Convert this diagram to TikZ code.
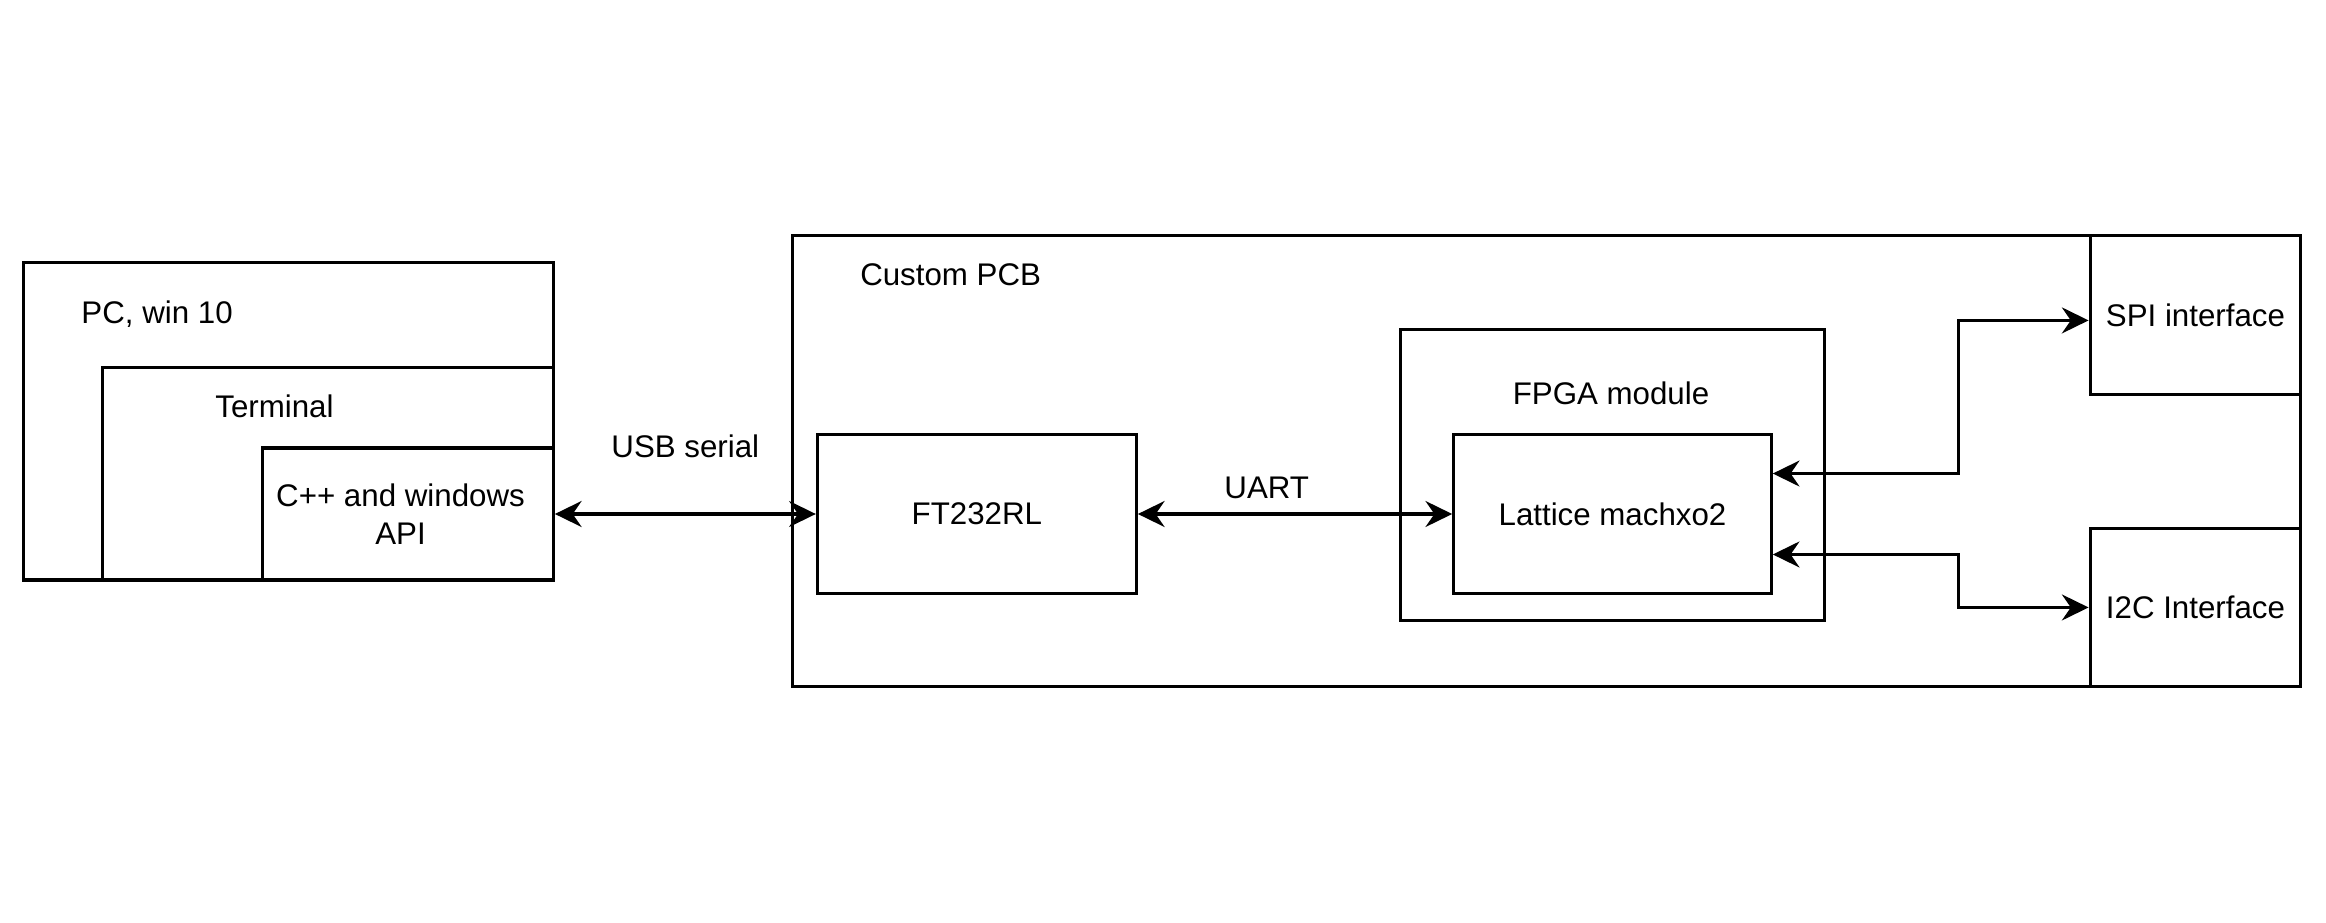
\documentclass[tikz,border=0pt]{standalone}
\usepackage{fontspec}
\setmainfont{Liberation Sans}
\usetikzlibrary{arrows.meta,calc}
\begin{document}
\begin{tikzpicture}[line width=1.2pt, font=\fontsize{12}{14.8}\selectfont,
    >={Stealth[length=3.6mm,width=3.5mm,inset=1.2mm]},
    blk/.style={draw, rectangle, inner sep=0pt, align=center}]
    \useasboundingbox (0,0) rectangle (31.36,12.44);
    % PC side
    \node[blk, minimum width=7.14cm, minimum height=4.28cm] (pc) at (3.89,6.76) {};
    \node[blk, minimum width=6.08cm, minimum height=2.86cm] (term) at (4.42,6.05) {};
    \node[blk, minimum width=3.92cm, minimum height=1.78cm] (cpp) at (5.50,5.51) {};
    \node[align=center] at (5.40,5.51) (cpptxt) {C++ and windows\\API};
    \node[anchor=west] (pctxt) at (0.96,8.20) {PC, win 10};
    \node (termtxt) at (3.70,6.96) {Terminal};

    % custom board
    \node[blk, minimum width=20.34cm, minimum height=6.08cm] (pcb) at (20.85,6.22) {};
    \node[anchor=west] (pcbtxt) at (11.46,8.74) {Custom PCB};
    \node[blk, minimum width=4.30cm, minimum height=2.14cm] (ft) at (13.17,5.51) {FT232RL};
    \node[blk, minimum width=5.72cm, minimum height=3.92cm] (fpga) at (21.74,6.04) {};
    \node (fpgatxt) at (21.72,7.14) {FPGA module};
    \node[blk, minimum width=4.28cm, minimum height=2.14cm] (lat) at (21.74,5.51) {Lattice machxo2};
    \node[blk, minimum width=2.84cm, minimum height=2.14cm] (spi) at (29.60,8.19) {SPI interface};
    \node[blk, minimum width=2.84cm, minimum height=2.14cm] (i2c) at (29.60,4.25) {I2C Interface};

    % links
    \draw[<->] (cpp.east) -- (ft.west) node[midway, above=0.62cm] (usb) {USB serial};
    \draw[<->] (ft.east) -- (lat.west) node[pos=0.41, above=0.06cm] (uart) {UART};
    \coordinate (latA) at ($(lat.north east)!0.25!(lat.south east)$);
    \coordinate (latB) at ($(lat.north east)!0.75!(lat.south east)$);
    \draw[<->] (latA) -| (26.40,8.12) -- ([yshift=-0.07cm]spi.west);
    \draw[<->] (latB) -| (26.40,4.25) -- (i2c.west);
\end{tikzpicture}
\end{document}
